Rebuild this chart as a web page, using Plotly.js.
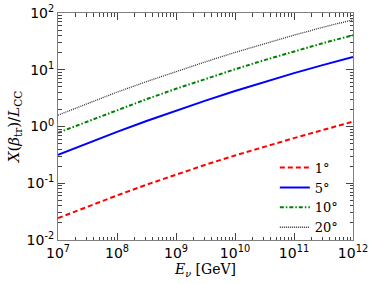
<!DOCTYPE html>
<html>
<head>
<meta charset="utf-8">
<script src="https://cdn.plot.ly/plotly-3.0.1.min.js"></script>
<style>html,body{margin:0;padding:0;background:#fff;}#plot{width:374px;height:284px;}</style>
</head>
<body>
<div id="plot"></div>
<script>
// Neutrino energy in GeV
var energy = [1e7, 3.162e7, 1e8, 3.162e8, 1e9, 3.162e9, 1e10, 3.162e10, 1e11, 3.162e11, 1e12];
// X(beta_tr)/L_CC for each angle
var angle1  = [0.0243, 0.0388, 0.061, 0.0942, 0.143, 0.212, 0.309, 0.443, 0.624, 0.873, 1.22];
var angle5  = [0.316, 0.508, 0.804, 1.25, 1.905, 2.86, 4.22, 6.11, 8.71, 12.2, 16.8];
var angle10 = [0.776, 1.233, 1.95, 3.03, 4.62, 6.93, 10.2, 14.8, 21.1, 29.6, 40.7];
var angle20 = [1.585, 2.55, 4.03, 6.18, 9.33, 13.8, 20.2, 28.9, 40.7, 56.4, 75.9];
var labels = ["1°", "5°", "10°", "20°"];
// tick labels
var xTickVals = [1e7, 1e8, 1e9, 1e10, 1e11, 1e12];
var xTickText = ["10<sup>7</sup>", "10<sup>8</sup>", "10<sup>9</sup>", "10<sup>10</sup>", "10<sup>11</sup>", "10<sup>12</sup>"];
var yTickVals = [1e-2, 1e-1, 1, 10, 100];
var yTickText = ["10<sup>-2</sup>", "10<sup>-1</sup>", "10<sup>0</sup>", "10<sup>1</sup>", "10<sup>2</sup>"];

function minorTicks(vals) {
  var out = [];
  for (var i = 0; i < vals.length - 1; i++) {
    for (var k = 2; k <= 9; k++) out.push(vals[i] * k);
  }
  return out;
}

var traces = [
  {x: energy, y: angle1,  name: labels[0], mode: 'lines', line: {color: '#ff0000', width: 2, dash: '5px,3px'}},
  {x: energy, y: angle5,  name: labels[1], mode: 'lines', line: {color: '#0000ff', width: 2}},
  {x: energy, y: angle10, name: labels[2], mode: 'lines', line: {color: '#008000', width: 2, dash: '4px,2px,1.5px,2px'}},
  {x: energy, y: angle20, name: labels[3], mode: 'lines', line: {color: '#333333', width: 1.3, dash: '1px,1px'}}
];

function axis(tv, tt) {
  return {
    type: 'log',
    showgrid: false,
    zeroline: false,
    showline: true,
    linecolor: '#808080',
    linewidth: 1,
    mirror: 'ticks',
    ticks: 'inside',
    ticklen: 7,
    tickwidth: 1,
    tickcolor: '#444',
    tickmode: 'array',
    tickvals: tv,
    ticktext: tt,
    tickfont: {family: 'DejaVu Sans', size: 14, color: '#000'},
    minor: {ticks: 'inside', ticklen: 3.5, tickwidth: 1, tickcolor: '#444', tickmode: 'array', tickvals: minorTicks(tv), showgrid: false}
  };
}

var layout = {
  width: 374, height: 284,
  margin: {l: 58, r: 21, t: 13, b: 44},
  paper_bgcolor: '#fff', plot_bgcolor: '#fff',
  showlegend: true,
  legend: {x: 0.735, y: 0.385, xanchor: 'left', yanchor: 'top', bgcolor: 'rgba(0,0,0,0)',
           font: {family: 'DejaVu Serif', size: 13, color: '#000'}, tracegroupgap: 0},
  xaxis: Object.assign(axis(xTickVals, xTickText), {
    range: [7, 12],
    title: {text: '<i>E</i><sub><i>ν</i></sub> [GeV]', font: {family: 'DejaVu Serif', size: 14, color: '#000'}, standoff: 3}
  }),
  yaxis: Object.assign(axis(yTickVals, yTickText), {
    range: [-2, 2],
    title: {text: '<i>X</i>(<i>β</i><sub>tr</sub>)/<i>L</i><sub>CC</sub>', font: {family: 'DejaVu Serif', size: 15, color: '#000'}, standoff: 3}
  })
};

Plotly.newPlot('plot', traces, layout, {staticPlot: true, displayModeBar: false});
</script>
</body>
</html>
